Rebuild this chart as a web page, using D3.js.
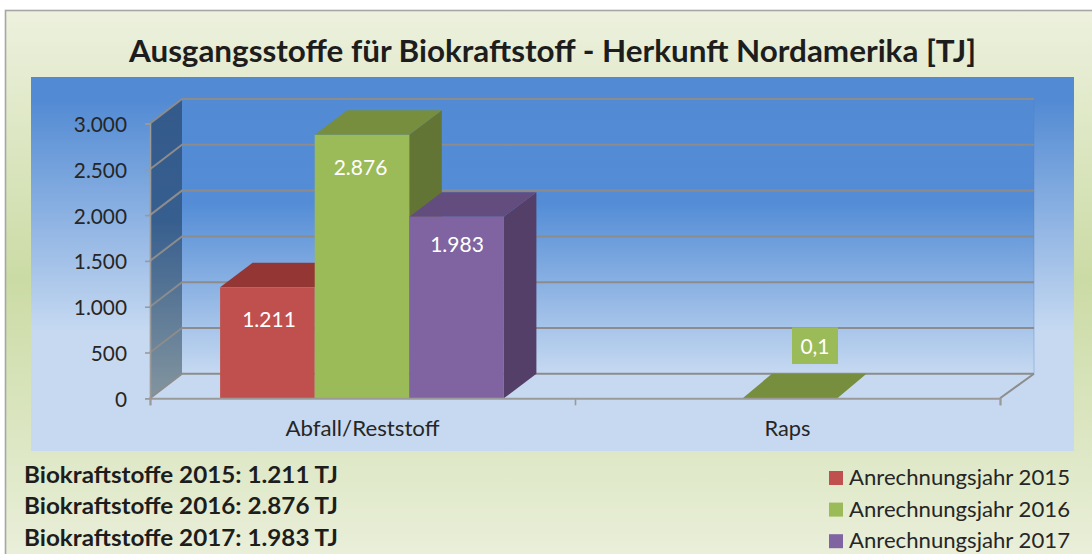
<!DOCTYPE html>
<html><head><meta charset="utf-8">
<script src="https://cdn.jsdelivr.net/npm/d3@7"></script>
<style>html,body{margin:0;padding:0;background:#fff}svg{display:block}text{font-family:Lato,"Open Sans",sans-serif}</style>
</head><body><svg id="c" width="1092" height="554"></svg>
<script>
const categories = ["Abfall/Reststoff", "Raps"];
const seriesNames = ["Anrechnungsjahr 2015", "Anrechnungsjahr 2016", "Anrechnungsjahr 2017"];
const values2015 = [1211, null];
const values2016 = [2876, 0.1];
const values2017 = [1983, null];
const dataLabels2015 = ["1.211", null];
const dataLabels2016 = ["2.876", "0,1"];
const dataLabels2017 = ["1.983", null];
const yTicks = [0, 500, 1000, 1500, 2000, 2500, 3000];
const summaryLines = ["Biokraftstoffe 2015: 1.211 TJ", "Biokraftstoffe 2016: 2.876 TJ", "Biokraftstoffe 2017: 1.983 TJ"];
const titleText = "Ausgangsstoffe für Biokraftstoff - Herkunft Nordamerika [TJ]";
const frontColors = ["#C0504D", "#9BBB59", "#8064A2"];
const topColors = ["#943634", "#778E3F", "#634D7E"];
const sideColors = ["#7A302E", "#637535", "#533F68"];

const series = [values2015, values2016, values2017];
const labels = [dataLabels2015, dataLabels2016, dataLabels2017];
const svg = d3.select("#c");
const defs = svg.append("defs");
function grad(id, stops) {
  const g = defs.append("linearGradient").attr("id", id).attr("x1", 0).attr("y1", 0).attr("x2", 0).attr("y2", 1);
  stops.forEach(s => g.append("stop").attr("offset", s[0]).attr("stop-color", s[1]));
}
grad("bg", [[0, "#EDF1DE"], [0.48, "#CBDBA5"], [1, "#EBF0DC"]]);
grad("panel", [[0, "#528AD3"], [0.06, "#528AD3"], [0.68, "#C6D9F1"], [1, "#C6D9F1"]]);
grad("back", [[0, "#528AD3"], [0.38, "#548DD6"], [1, "#C6D9F1"]]);
grad("wall", [[0, "#335A8A"], [0.4, "#365E8E"], [1, "#83959F"]]);

// frame and plot panel
svg.append("rect").attr("x", 5.5).attr("y", 10.5).attr("width", 1092).attr("height", 560)
  .attr("fill", "url(#bg)").attr("stroke", "#A6A6A6").attr("stroke-width", 1.6);
svg.append("rect").attr("x", 31).attr("y", 77).attr("width", 1043).attr("height", 374).attr("fill", "url(#panel)");

svg.append("text").attr("x", 552.5).attr("y", 62).attr("text-anchor", "middle")
  .attr("font-size", 30.5).attr("font-weight", 700).attr("fill", "#1d1d1d")
  .attr("textLength", 847).attr("lengthAdjust", "spacingAndGlyphs").text(titleText);

// scales
const y = d3.scaleLinear().domain([0, 3000]).range([398.3, 123.5]);
const xAxisScale = d3.scalePoint().domain([...categories.map((c, i) => i), 2]).range([150, 1000]);
const xBand = d3.scaleBand().domain(categories).range([150, 1000]);
const barX = d3.scaleBand().domain(categories).range([148, 1004]).paddingInner(0);
const DX = 32, DY = -24.5;
const barW = 94.6;
const gridColor = "#8C8C8C";
const left = 150, right = 1000;
const poly = pts => pts.map(p => p.join(",")).join(" ");

// back wall, floor and side wall
svg.append("rect").attr("x", left + DX).attr("y", y(3000) + DY).attr("width", right + 34 - left - DX).attr("height", y(0) - y(3000))
  .attr("fill", "url(#back)");
svg.append("line").attr("x1", right + 34).attr("x2", right + 34).attr("y1", y(3000) + DY).attr("y2", y(0) + DY)
  .attr("stroke", "#4F81BD").attr("stroke-opacity", 0.35);
svg.append("polygon").attr("points", poly([[left, y(0)], [left + DX, y(0) + DY], [right + 34, y(0) + DY], [right, y(0)]]))
  .attr("fill", "#C6D9F1");
svg.append("polygon").attr("points", poly([[left, y(3000)], [left + DX, y(3000) + DY], [left + DX, y(0) + DY], [left, y(0)]]))
  .attr("fill", "url(#wall)");

// gridlines along back and side walls
yTicks.forEach(t => {
  const v = y(t);
  svg.append("polyline").attr("fill", "none").attr("stroke", gridColor).attr("stroke-width", 2)
    .attr("points", poly([[left, v], [left + DX, v + DY], [right + 34, v + DY]]));
});
svg.append("line").attr("x1", right).attr("y1", y(0)).attr("x2", right + 34).attr("y2", y(0) + DY)
  .attr("stroke", gridColor).attr("stroke-width", 2);

// bars
categories.forEach((cat, ci) => {
  const center = barX(cat) + barX.bandwidth() / 2;
  const depth = ci === 0 ? 32.5 : 29.2;
  series.forEach((vals, si) => {
    const val = vals[ci];
    if (val == null) return;
    const x0 = center + (si - 1.5) * barW;
    const x1 = x0 + barW;
    const top = y(val), base = y(0);
    const g = svg.append("g");
    g.append("polygon").attr("points", poly([[x1, top], [x1 + depth, top + DY], [x1 + depth, base + DY], [x1, base]])).attr("fill", sideColors[si]);
    g.append("polygon").attr("points", poly([[x0, top], [x0 + depth, top + DY], [x1 + depth, top + DY], [x1, top]])).attr("fill", topColors[si]);
    g.append("rect").attr("x", x0).attr("y", top).attr("width", barW).attr("height", base - top).attr("fill", frontColors[si]);
  });
});

// axes
const fmt = d3.formatLocale({decimal: ",", thousands: ".", grouping: [3], currency: ["", ""]}).format(",d");
const axL = svg.append("g").attr("transform", `translate(${left},0)`)
  .call(d3.axisLeft(y).tickValues(yTicks).tickFormat(fmt).tickSize(5).tickPadding(18));
axL.selectAll("path").attr("stroke", "#9A9A9A").attr("stroke-width", 1.6);
axL.selectAll("line").attr("stroke", "#9A9A9A").attr("stroke-width", 1.6);
axL.selectAll("text").attr("font-size", 20.8).attr("fill", "#262626").attr("font-family", "Lato").attr("dy", "0.38em");

const axB = svg.append("g").attr("transform", `translate(0,${y(0)})`)
  .call(d3.axisBottom(xAxisScale).tickSize(7).tickFormat(""));
axB.selectAll("path").attr("stroke", "#9A9A9A").attr("stroke-width", 2);
axB.selectAll("line").attr("stroke", "#9A9A9A").attr("stroke-width", 1.6);
const catWidths = [154, 46];
categories.forEach((c, i) => {
  svg.append("text").attr("x", xBand(c) + xBand.bandwidth() / 2).attr("y", 436).attr("text-anchor", "middle")
    .attr("font-size", 20.5).attr("fill", "#262626")
    .attr("textLength", catWidths[i]).attr("lengthAdjust", "spacingAndGlyphs").text(c);
});

// data labels
const labelPos = [[[269, 327], null], [[360.5, 175], [815, 354]], [[457, 252], null]];
labels.forEach((arr, si) => arr.forEach((t, ci) => {
  if (t == null) return;
  const p = labelPos[si][ci];
  if (ci === 1) {
    svg.append("rect").attr("x", p[0] - 23).attr("y", 327.3).attr("width", 46).attr("height", 36.7).attr("fill", frontColors[si]);
  }
  svg.append("text").attr("x", p[0]).attr("y", p[1]).attr("text-anchor", "middle")
    .attr("font-size", 21).attr("fill", "#fff").text(t);
}));

// summary
summaryLines.forEach((t, i) => {
  svg.append("text").attr("x", 24).attr("y", 482.7 + i * 31.7).attr("font-size", 22).attr("font-weight", 700).attr("fill", "#1d1d1d")
    .attr("textLength", 314).attr("lengthAdjust", "spacingAndGlyphs").text(t);
});

// legend
seriesNames.forEach((t, i) => {
  const cy = 478 + i * 31.6;
  svg.append("rect").attr("x", 829).attr("y", cy - 7).attr("width", 14).attr("height", 14).attr("fill", frontColors[i]);
  svg.append("text").attr("x", 849).attr("y", cy + 7).attr("font-size", 20.5).attr("fill", "#262626")
    .attr("textLength", 221).attr("lengthAdjust", "spacingAndGlyphs").text(t);
});
</script></body></html>
